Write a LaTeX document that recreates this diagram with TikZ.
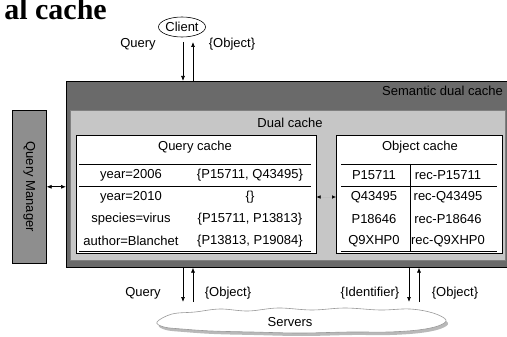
\documentclass[tikz,border=0pt]{standalone}
\usepackage[svgnames]{xcolor}
\usepackage{fontspec}
\setmainfont{Liberation Sans}
\newfontfamily\headfont{Liberation Serif}
\usepackage{tikz}
\usetikzlibrary{arrows.meta,shapes.geometric}
\definecolor{sdcgray}{HTML}{6A6A6A}
\definecolor{dcgray}{HTML}{C6C6C6}
\definecolor{qmgray}{HTML}{8E8E8E}

\begin{document}
\begin{tikzpicture}[x=1pt, y=-1pt,
  txt/.style={font=\fontsize{13}{15}\selectfont, inner sep=0pt},
  box/.style={draw=black, line width=0.6pt, anchor=north west, inner sep=0pt},
  flow/.style={-{Latex[length=5pt,width=4pt]}, line width=0.7pt},
  both/.style={{Latex[length=5pt,width=4pt]}-{Latex[length=5pt,width=4pt]}, line width=0.7pt}]
\useasboundingbox (0,0) rectangle (507,337);
%%%%% Heading %%%%%
\node[anchor=base east, inner sep=0pt, font=\headfont\bfseries\fontsize{30}{31}\selectfont] (heading) at (107,20) {al cache};
%%%%% Client %%%%%
\node[ellipse, draw, line width=0.6pt, minimum width=46pt, minimum height=20pt, txt] (client) at (182,27) {Client};
%%%%% Boxes %%%%%
\node[box, fill=sdcgray, minimum width=446pt, minimum height=186pt] (sdc) at (66,81) {};
\node[txt, anchor=east] (sdclabel) at (503,91) {Semantic dual cache};
\node[box, draw=gray, fill=dcgray, minimum width=435pt, minimum height=150pt] (dc) at (70,110) {};
\node[txt] (dclabel) at (290,123) {Dual cache};
\node[box, fill=white, minimum width=240pt, minimum height=118pt] (qc) at (76,135) {};
\node[txt] (qclabel) at (195,147) {Query cache};
\node[box, fill=white, minimum width=166pt, minimum height=118pt] (oc) at (336,135) {};
\node[txt] (oclabel) at (420,147) {Object cache};
%%%%% Tables %%%%%
\draw[line width=0.6pt] (79,164) -- (311,164) (79,186) -- (311,186) (79,251) -- (311,251);
\draw[line width=0.6pt] (341,164) -- (497,164) (341,186) -- (497,186) (341,251) -- (497,251) (410,164) -- (410,251);
\foreach \y/\k/\v in {175/year=2006/{\{P15711, Q43495\}}, 197/year=2010/{\{\}}, 219/species=virus/{\{P15711, P13813\}}, 241/author=Blanchet/{\{P13813, P19084\}}}{
\node[txt] (qk\y) at (131,\y) {\k};
\node[txt] (qv\y) at (250,\y) {\v};
}
\foreach \y/\k/\v in {175/P15711/rec-P15711, 197/Q43495/rec-Q43495, 219/P18646/rec-P18646, 241/Q9XHP0/rec-Q9XHP0}{
\node[txt] (ok\y) at (374,\y) {\k};
\node[txt] (ov\y) at (448,\y) {\v};
}
\coordinate (mid) at (326,197);
\draw[gray!50, line width=0.5pt, {Latex[black,length=4pt,width=3.5pt]}-{Latex[black,length=4pt,width=3.5pt]}] (mid -| qc.east) -- (mid -| oc.west);
%%%%% Query Manager %%%%%
\node[box, fill=qmgray, minimum width=34pt, minimum height=153pt] (qm) at (12,110) {};
\node[txt, rotate=-90] (qmlabel) at (qm.center) {Query Manager};
\draw[both] (qm.east) -- (qm.east -| sdc.west);
%%%%% Client arrows %%%%%
\coordinate (cq) at (183,42);
\coordinate (co) at (193,42);
\draw[flow] (cq) -- (cq |- sdc.north);
\draw[flow] (co |- sdc.north) -- (co);
\node[txt] (cqlabel) at (138,44) {Query};
\node[txt] (colabel) at (232,44) {\{Object\}};
%%%%% Servers %%%%%
\fill[gray!55, shift={(2,3)}] plot[smooth cycle, tension=0.6] coordinates {(157,322) (172,314) (195,312) (220,309) (248,311) (278,308) (312,310) (345,308) (380,310) (410,309) (433,313) (446,320) (438,326) (418,330) (388,332) (350,332) (300,333) (252,332) (212,331) (182,329) (164,327)};
\draw[gray!80, fill=white, line width=0.6pt] plot[smooth cycle, tension=0.6] coordinates {(157,322) (172,314) (195,312) (220,309) (248,311) (278,308) (312,310) (345,308) (380,310) (410,309) (433,313) (446,320) (438,326) (418,330) (388,332) (350,332) (300,333) (252,332) (212,331) (182,329) (164,327)};
\node[txt] (servers) at (290,322) {Servers};
\coordinate (sq) at (183,302);
\coordinate (so) at (193,302);
\coordinate (si) at (409,302);
\coordinate (sr) at (419,302);
\draw[flow] (sq |- sdc.south) -- (sq);
\draw[flow] (so) -- (so |- sdc.south);
\draw[flow] (si |- sdc.south) -- (si);
\draw[flow] (sr) -- (sr |- sdc.south);
\node[txt] (sqlabel) at (143,293) {Query};
\node[txt] (solabel) at (228,293) {\{Object\}};
\node[txt] (silabel) at (370,293) {\{Identifier\}};
\node[txt] (srlabel) at (455,293) {\{Object\}};
\end{tikzpicture}
\end{document}
